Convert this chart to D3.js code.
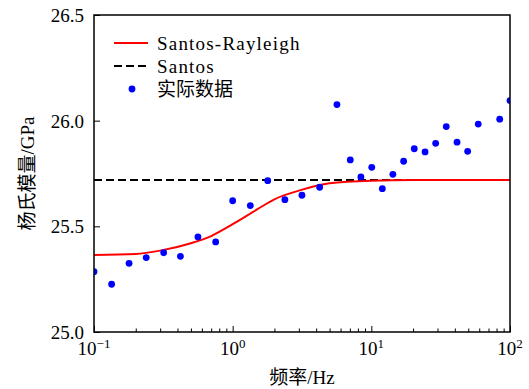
<!DOCTYPE html>
<html>
<head>
<meta charset="utf-8">
<script src="https://cdn.jsdelivr.net/npm/d3@7"></script>
<style>
  html, body { margin: 0; padding: 0; background: #fff; }
  svg { display: block; }
  svg text { font-family: "Liberation Serif", "DejaVu Serif", "Noto Sans CJK SC", serif; fill: #000; }
</style>
</head>
<body>
<svg id="chart" width="529" height="389"></svg>
<script>
// Measured data (frequency in Hz, Young's modulus in GPa)
const measuredFreq = [0.1, 0.134, 0.179, 0.238, 0.318, 0.42, 0.562, 0.754, 1.0, 1.34, 1.79, 2.38,
  3.16, 4.24, 5.65, 7.05, 8.41, 10.07, 12.0, 14.3, 17.1, 20.4, 24.4, 29.1, 34.7, 41.5, 49.5, 59, 84.3, 100];
const measuredModulus = [25.285, 25.226, 25.325, 25.352, 25.375, 25.358, 25.45, 25.426, 25.621, 25.598, 25.716, 25.626,
  25.647, 25.685, 26.076, 25.814, 25.734, 25.779, 25.678, 25.746, 25.808, 25.867, 25.852, 25.893, 25.972, 25.898, 25.855, 25.984, 26.007, 26.095];

// Santos-Rayleigh model curve
const modelFreq = [0.1, 0.2, 0.3, 0.5, 0.7, 1.0, 1.5, 2, 3, 5, 10, 20, 100];
const modelModulus = [25.364, 25.369, 25.385, 25.42, 25.454, 25.51, 25.58, 25.628, 25.669, 25.704, 25.716, 25.719, 25.719];

// Santos (high-frequency limit)
const santosFreq = [0.1, 100];
const santosModulus = [25.719, 25.719];

const yTicks = [25.0, 25.5, 26.0, 26.5];
const xMajorTicks = [0.1, 1, 10, 100];
const xTickExponents = ['\u22121', '0', '1', '2'];

const legendLabels = ['Santos-Rayleigh', 'Santos', '实际数据'];
const xLabel = '频率/Hz';
const yLabel = '杨氏模量/GPa';

const margins = { left: 94, top: 15, right: 19, bottom: 57 };
const width = 529, height = 389;
const innerWidth = width - margins.left - margins.right;
const innerHeight = height - margins.top - margins.bottom;

const svg = d3.select('#chart');

const x = d3.scaleLog().domain([0.1, 100]).range([0, innerWidth]);
const y = d3.scaleLinear().domain([25.0, 26.5]).range([innerHeight, 0]);

const plot = svg.append('g')
  .attr('transform', `translate(${margins.left}, ${margins.top})`);

plot.append('clipPath').attr('id', 'clip')
  .append('rect').attr('width', innerWidth).attr('height', innerHeight);

const data = plot.append('g').attr('clip-path', 'url(#clip)');

const line = d3.line()
  .x((d) => x(d[0]))
  .y((d) => y(d[1]));

// Santos dashed line
data.append('path')
  .datum(santosFreq.map((f, i) => [f, santosModulus[i]]))
  .attr('d', line)
  .style('fill', 'none')
  .style('stroke', '#000')
  .style('stroke-width', 2)
  .style('stroke-dasharray', '8 4');

// Santos-Rayleigh curve
data.append('path')
  .datum(modelFreq.map((f, i) => [f, modelModulus[i]]))
  .attr('d', line.curve(d3.curveMonotoneX))
  .style('fill', 'none')
  .style('stroke', '#ff0000')
  .style('stroke-width', 2);

// Measured points
data.selectAll('circle.pt')
  .data(measuredFreq.map((f, i) => [f, measuredModulus[i]]))
  .enter()
  .append('circle')
  .attr('class', 'pt')
  .attr('cx', (d) => x(d[0]))
  .attr('cy', (d) => y(d[1]))
  .attr('r', 3.4)
  .style('fill', '#0000ff');

// Frame
plot.append('rect')
  .attr('width', innerWidth)
  .attr('height', innerHeight)
  .style('fill', 'none')
  .style('stroke', '#000')
  .style('stroke-width', 1.5);

// Bottom axis: minor + major ticks pointing inward
const xAxis = d3.axisBottom(x)
  .tickValues(x.ticks())
  .tickSizeOuter(0)
  .tickFormat('');

const xAxisG = plot.append('g')
  .attr('transform', `translate(0, ${innerHeight})`)
  .call(xAxis);
xAxisG.select('.domain').remove();
xAxisG.selectAll('.tick text').remove();
xAxisG.selectAll('.tick line')
  .attr('y2', (d) => xMajorTicks.includes(d) ? -6 : -3.5)
  .style('stroke-width', 1);

const xLabels = plot.append('g')
  .selectAll('text')
  .data(xMajorTicks)
  .enter()
  .append('text')
  .attr('x', (d) => x(d))
  .attr('y', innerHeight + 23)
  .attr('text-anchor', 'middle')
  .style('font-size', '19px');
xLabels.append('tspan').text('10');
xLabels.append('tspan')
  .attr('dy', -7)
  .style('font-size', '13px')
  .text((d, i) => xTickExponents[i]);

// Left axis
const yAxis = d3.axisLeft(y)
  .tickValues(yTicks)
  .tickSizeOuter(0)
  .tickSizeInner(-6)
  .tickPadding(10)
  .tickFormat(d3.format('.1f'));

const yAxisG = plot.append('g').call(yAxis);
yAxisG.select('.domain').remove();
yAxisG.attr('font-family', null).attr('font-size', null);
xAxisG.attr('font-family', null).attr('font-size', null);
yAxisG.selectAll('.tick text')
  .style('font-size', '19px')
  .attr('dy', '0.35em');

// Axis titles
svg.append('text')
  .attr('x', margins.left + innerWidth / 2)
  .attr('y', height - 5)
  .attr('text-anchor', 'middle')
  .style('font-size', '19px')
  .text(xLabel);

svg.append('text')
  .attr('transform', `translate(34, ${margins.top + innerHeight / 2}) rotate(-90)`)
  .attr('text-anchor', 'middle')
  .style('font-size', '19px')
  .text(yLabel);

// Legend
const legend = plot.append('g').attr('transform', 'translate(20, 28)');
const rowGap = 23;
legend.append('line')
  .attr('x1', 0).attr('x2', 34).attr('y1', 0).attr('y2', 0)
  .style('stroke', '#ff0000').style('stroke-width', 2);
legend.append('line')
  .attr('x1', 0).attr('x2', 34).attr('y1', rowGap).attr('y2', rowGap)
  .style('stroke', '#000').style('stroke-width', 2).style('stroke-dasharray', '8 4');
legend.append('circle')
  .attr('cx', 18).attr('cy', 2 * rowGap).attr('r', 3.4)
  .style('fill', '#0000ff');
legend.selectAll('text.legend-label')
  .data(legendLabels)
  .enter()
  .append('text')
  .attr('class', 'legend-label')
  .attr('x', 43)
  .attr('y', (d, i) => i * rowGap)
  .attr('dy', '0.35em')
  .style('font-size', '19px')
  .style('letter-spacing', (d, i) => i < 2 ? '1.2px' : null)
  .text((d) => d);
</script>
</body>
</html>
